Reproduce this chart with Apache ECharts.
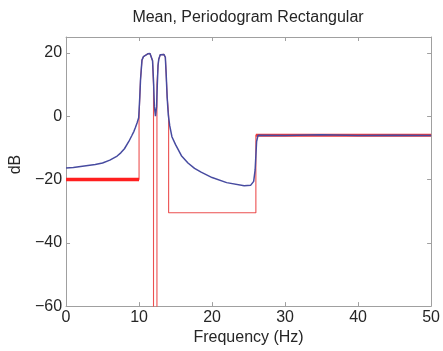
<!DOCTYPE html>
<html>
<head>
<meta charset="utf-8">
<script src="https://cdn.jsdelivr.net/npm/echarts@6/dist/echarts.min.js"></script>
<style>
html,body{margin:0;padding:0;background:#fff;}
#chart{width:443px;height:351px;}
</style>
</head>
<body>
<div id="chart"></div>
<script>
// ---- data ----
const titleText = 'Mean, Periodogram Rectangular';
const xName = 'Frequency (Hz)';
const yName = 'dB';
const xTicks = [0, 10, 20, 30, 40, 50];
const yTicks = [-60, -40, -20, 0, 20];

// estimated mean periodogram (blue)
const blueFreq = [0, 1, 2, 3, 4, 5, 6, 7, 7.5, 8, 8.6, 9, 9.3, 9.5, 9.75, 9.95, 10.1, 10.2, 10.4, 10.6, 10.85, 11.2, 11.5, 11.7, 11.85, 12.0, 12.1, 12.25, 12.4, 12.5, 12.6, 12.7, 12.9, 13.15, 13.4, 13.6, 13.7, 13.85, 14.0, 14.2, 14.5, 15.0, 15.8, 16.7, 17.6, 18.5, 20, 22, 24.4, 25.3, 25.7, 25.9, 26.1, 26.3, 30, 35, 40, 45, 50];
const blueDb =   [-16.4, -16.2, -15.9, -15.6, -15.3, -14.8, -13.9, -12.6, -11.6, -10.3, -8, -6.2, -4.8, -3.6, -2, -0.5, 6, 11.5, 17.7, 18.8, 19.3, 19.7, 19.8, 19.2, 17.5, 10, 3, 0, 3, 10, 16, 18, 19.4, 19.8, 19.5, 18.6, 14, 6, 0.5, -3, -6.5, -9, -12.5, -14.8, -16.5, -17.7, -19.4, -21, -22, -21.8, -20.6, -17, -8, -6, -6.1, -5.9, -6.1, -6, -6.1];

// true spectrum (red)
const redFreq = [0, 10, 10, 10.1, 10.2, 10.4, 10.6, 10.85, 11.2, 11.5, 11.7, 11.85, 11.98, 11.98, 12.45, 12.45, 12.6, 12.7, 12.9, 13.15, 13.4, 13.6, 13.7, 13.85, 14.05, 14.05, 26, 26, 50];
const redDb =   [-20, -20, -0.5, 6, 11.5, 17.7, 18.8, 19.3, 19.7, 19.8, 19.2, 17.5, 10, -120, -120, 10, 16, 18, 19.4, 19.8, 19.5, 18.6, 14, 6, 0.5, -30.5, -30.5, -6, -6];
const redFlatLowFreq = [0, 10];
const redFlatLowDb = [-20, -20];
const redFlatHighFreq = [26, 50];
const redFlatHighDb = [-6, -6];

const pairs = (xs, ys) => xs.map((x, i) => [x, ys[i]]);

const FONT = '"Liberation Sans", Arial, Helvetica, sans-serif';
const AXC = '#a0a0a0';
const TXT = '#262626';

const chart = echarts.init(document.getElementById('chart'), null, {renderer: 'canvas'});

const baseX = {
  type: 'value', min: 0, max: 50, interval: 10,
  axisLine: {show: true, onZero: false, lineStyle: {color: AXC, width: 1}},
  axisTick: {show: true, inside: true, length: 4, lineStyle: {color: AXC}},
  splitLine: {show: false}
};
const baseY = {
  type: 'value', min: -60, max: 25, interval: 20,
  axisLine: {show: true, onZero: false, lineStyle: {color: AXC, width: 1}},
  axisTick: {show: true, inside: true, length: 4, lineStyle: {color: AXC}},
  splitLine: {show: false}
};

chart.setOption({
  animation: false,
  backgroundColor: '#fff',
  grid: {left: 63, right: 10, top: 37, bottom: 40, containLabel: false},
  graphic: [{
    type: 'text', x: 248, y: 10,
    style: {text: titleText, fill: TXT, font: '16px ' + FONT, textAlign: 'center', textVerticalAlign: 'top'}
  }],
  xAxis: [
    Object.assign({}, baseX, {
      position: 'bottom',
      name: xName, nameLocation: 'middle', nameGap: 20,
      nameTextStyle: {fontFamily: FONT, fontSize: 16, color: TXT},
      axisLabel: {show: true, margin: 3, fontFamily: FONT, fontSize: 16, color: TXT,
        formatter: v => xTicks.includes(v) ? String(v) : ''}
    }),
    Object.assign({}, baseX, {position: 'top', axisLabel: {show: false}})
  ],
  yAxis: [
    Object.assign({}, baseY, {
      position: 'left',
      name: yName, nameLocation: 'middle', nameGap: 33,
      nameTextStyle: {fontFamily: FONT, fontSize: 16, color: TXT, padding: [0, 0, 0, 14]},
      axisLabel: {show: true, margin: 4, fontFamily: FONT, fontSize: 16, color: TXT,
        showMaxLabel: false,
        formatter: v => yTicks.includes(v) ? String(v).replace('-', '\u2212') : ''}
    }),
    Object.assign({}, baseY, {position: 'right', axisLabel: {show: false}})
  ],
  series: [
    {
      type: 'line', data: pairs(redFreq, redDb), showSymbol: false, clip: true,
      lineStyle: {color: '#ec5050', width: 1.1}, z: 2
    },
    {
      type: 'line', data: pairs(redFlatLowFreq, redFlatLowDb), showSymbol: false,
      lineStyle: {color: '#ff1f1f', width: 3.5}, z: 3
    },
    {
      type: 'line', data: pairs(redFlatHighFreq, redFlatHighDb), showSymbol: false,
      lineStyle: {color: '#f23a3a', width: 3}, z: 3
    },
    {
      type: 'line', data: pairs(blueFreq, blueDb), showSymbol: false, clip: true,
      lineStyle: {color: '#474ba0', width: 1.5}, z: 4
    }
  ]
});
</script>
</body>
</html>
